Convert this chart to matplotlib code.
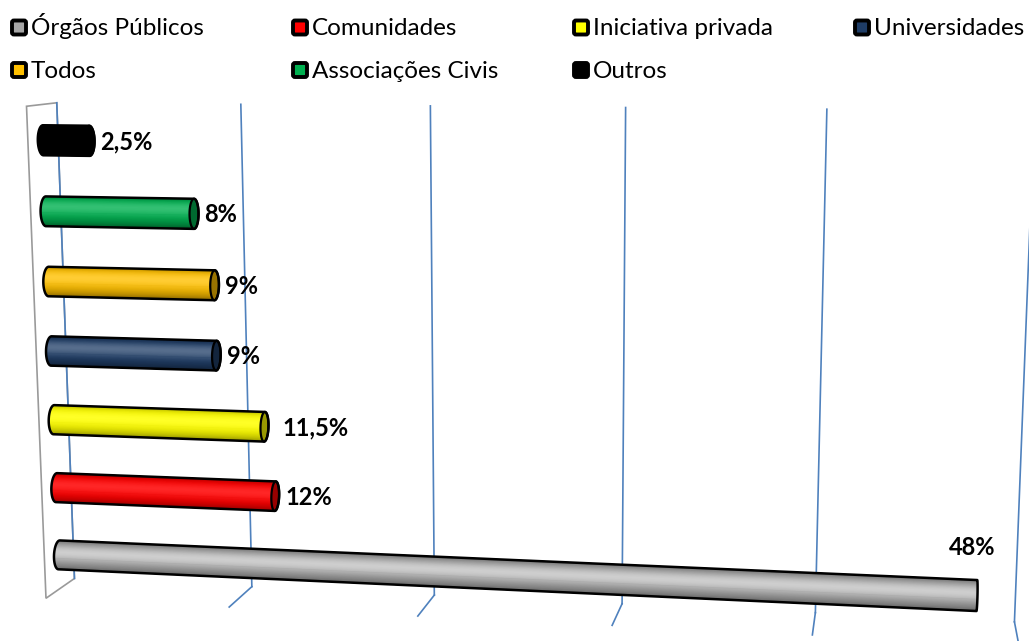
import numpy as np
import matplotlib
matplotlib.use("Agg")
import matplotlib.pyplot as plt
import matplotlib.colors as mcolors
from matplotlib.collections import PolyCollection
from matplotlib.patches import Polygon, FancyBboxPatch

plt.rcParams["font.family"] = ["Lato", "DejaVu Sans"]

# ---------------------------------------------------------------- data
categories = ["Órgãos Públicos", "Comunidades", "Iniciativa privada",
              "Universidades", "Todos", "Associações Civis", "Outros"]
values = [48, 12, 11.5, 9, 9, 8, 2.5]
value_labels = ["48%", "12%", "11,5%", "9%", "9%", "8%", "2,5%"]
grid_values = [0, 10, 20, 30, 40, 50]
axis_max = 50

# ---------------------------------------------------------------- styles
bar_colors = ["#A6A6A6", "#FF0000", "#FFFF00", "#1F3D66",
              "#FFC000", "#00B050", "#000000"]
highlight = [0.45, 0.15, 0.15, 0.25, 0.2, 0.2, 0.0]
grid_color = "#4F81BD"
wall_color = "#9A9A9A"

W, H = 1029, 641

# ---------------------------------------------------------------- 3-D frame
# world coordinates: (value, height 0..1, depth 0=front .. 1=back)
frame_world = np.array([
    (0, 0, 1), (10, 0, 1), (20, 0, 1), (30, 0, 1), (40, 0, 1), (50, 0, 1),
    (0, 1, 1), (10, 1, 1), (20, 1, 1), (30, 1, 1), (40, 1, 1),
    (0, 0, 0), (10, 0, 0), (20, 0, 0), (30, 0, 0), (40, 0, 0),
    (0, 1, 0)], float)
frame_page = np.array([
    (75, 578), (251, 587), (434, 597), (622, 606), (816, 612), (1015, 617),
    (57, 102), (240, 105), (430, 106), (626, 108), (827, 110),
    (47, 597), (229, 607), (417, 616), (612, 626), (812, 637),
    (27, 105)], float)


def fit_camera(world, page):
    """Direct linear transform for a 3x4 projective camera."""
    tw = np.diag([1.0 / axis_max, 1.0, 1.0, 1.0])
    s = 500.0
    ti = np.array([[1 / s, 0, -W / 2 / s], [0, 1 / s, -H / 2 / s], [0, 0, 1]])
    wn = np.c_[world, np.ones(len(world))] @ tw.T
    pn = np.c_[page, np.ones(len(page))] @ ti.T
    rows = []
    for (X, Y, Z, _), (x, y, _) in zip(wn, pn):
        rows.append([X, Y, Z, 1, 0, 0, 0, 0, -x * X, -x * Y, -x * Z, -x])
        rows.append([0, 0, 0, 0, X, Y, Z, 1, -y * X, -y * Y, -y * Z, -y])
    _, _, vt = np.linalg.svd(np.array(rows))
    pn_mat = vt[-1].reshape(3, 4)
    return np.linalg.inv(ti) @ pn_mat @ tw


P = fit_camera(frame_world, frame_page)
_, _, vt = np.linalg.svd(P)
cam = vt[-1][:3] / vt[-1][3]


def project(pts):
    pts = np.atleast_2d(np.asarray(pts, float))
    hom = np.c_[pts, np.ones(len(pts))] @ P.T
    return hom[:, :2] / hom[:, 2:3]


def convex_hull(points):
    pts = sorted(map(tuple, points))

    def cross(o, a, b):
        return (a[0] - o[0]) * (b[1] - o[1]) - (a[1] - o[1]) * (b[0] - o[0])

    lower, upper = [], []
    for p in pts:
        while len(lower) >= 2 and cross(lower[-2], lower[-1], p) <= 0:
            lower.pop()
        lower.append(p)
    for p in reversed(pts):
        while len(upper) >= 2 and cross(upper[-2], upper[-1], p) <= 0:
            upper.pop()
        upper.append(p)
    return np.array(lower[:-1] + upper[:-1])


def shade(color, t, spec):
    rgb = np.array(mcolors.to_rgb(color))
    lit = max(t, 0.0)
    c = rgb * (0.52 + 0.48 * lit)
    c = c + (1 - c) * spec * lit ** 8
    return tuple(np.clip(c, 0, 1))


# ---------------------------------------------------------------- figure
fig = plt.figure(figsize=(W / 100, H / 100), dpi=100)
ax = fig.add_axes([0, 0, 1, 1])
ax.set_xlim(0, W)
ax.set_ylim(H, 0)
ax.axis("off")

# side wall
side = project([(0, 0, 0), (0, 0, 1), (0, 1, 1), (0, 1, 0)])
ax.add_patch(Polygon(side, closed=True, fill=False, ec=wall_color, lw=1.2, zorder=1))

# gridlines on the back wall and floor
for gv in grid_values:
    wall = project([(gv, 1, 1), (gv, 0, 1)])
    ax.plot(wall[:, 0], wall[:, 1], color=grid_color, lw=1.2, zorder=1.5)
    if gv > 0:
        floor = project([(gv, 0, 1), (gv, 0, 0)])
        ax.plot(floor[:, 0], floor[:, 1], color=grid_color, lw=1.2, zorder=1.5)

# cylinders
n_cat = len(categories)
r_h, r_d, dc = 0.030, 0.18, 0.5
light = 0.45
n_seg = 120
theta = np.linspace(0, 2 * np.pi, n_seg + 1)

for i, (val, col, spec, lab) in enumerate(zip(values, bar_colors, highlight, value_labels)):
    hc = (i + 0.5) / n_cat

    def ring(v):
        return np.column_stack([np.full_like(theta, v),
                                hc + r_h * np.sin(theta),
                                dc - r_d * np.cos(theta)])

    pl = project(ring(0.0))
    pr = project(ring(val))
    polys, fcs = [], []
    for k in range(n_seg):
        th = 0.5 * (theta[k] + theta[k + 1])
        xm = np.array([val / 2, hc + r_h * np.sin(th), dc - r_d * np.cos(th)])
        nrm = np.array([0.0, np.sin(th) / r_h, -np.cos(th) / r_d])
        if nrm @ (cam - xm) <= 0:
            continue
        polys.append([pl[k], pl[k + 1], pr[k + 1], pr[k]])
        fcs.append(shade(col, np.cos(th - light), spec))
    ax.add_collection(PolyCollection(polys, facecolors=fcs, edgecolors=fcs,
                                     linewidths=0.6, zorder=3))
    if cam[0] > val:
        cap = tuple(np.array(mcolors.to_rgb(col)) * 0.6)
        ax.add_patch(Polygon(pr, closed=True, fc=cap, ec="black", lw=1.6, zorder=4))
    hull = convex_hull(np.vstack([pl, pr]))
    ax.add_patch(Polygon(hull, closed=True, fill=False, ec="black", lw=1.8,
                         joinstyle="round", zorder=5))

    # value label
    end = project([(val, hc, dc)])[0]
    if i == 0:
        ax.text(end[0] - 5, pr[:, 1].min() - 25, lab, ha="center", va="baseline",
                fontsize=17, fontweight="bold", zorder=6)
    else:
        gap = 14 if lab == "11,5%" else 6
        ax.text(pr[:, 0].max() + gap, end[1] + 8.5, lab, ha="left", va="baseline",
                fontsize=17, fontweight="bold", zorder=6)

# legend (two rows, four columns)
for j, name in enumerate(categories):
    row, colm = divmod(j, 4)
    x0 = 12 + colm * 281
    yc = 27.5 + row * 42.5
    ax.add_patch(FancyBboxPatch((x0, yc - 7), 14, 14,
                                boxstyle="round,pad=0,rounding_size=2",
                                fc=bar_colors[j], ec="black", lw=2.8, zorder=6))
    ax.text(x0 + 19, yc + 7.5, name, ha="left", va="baseline",
            fontsize=17.5, zorder=6)

fig.savefig("out.png", dpi=100)
